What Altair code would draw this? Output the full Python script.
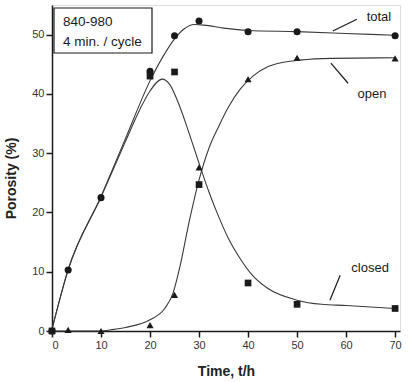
import altair as alt
import pandas as pd

# ---- measured points ----
time_total = [0, 3.3, 10, 20, 25, 30, 40, 50, 70]
total_pts = [0, 10.3, 22.5, 43.8, 49.8, 52.3, 50.5, 50.5, 49.8]

time_closed = [0, 20, 25, 30, 40, 50, 70]
closed_pts = [0, 43.0, 43.7, 24.7, 8.1, 4.5, 3.8]

time_open = [0, 3.3, 10, 20, 25, 30, 40, 50, 70]
open_pts = [0, 0.2, 0, 1.0, 6.1, 27.6, 42.5, 46.1, 46.0]

# ---- fitted curves ----
total_fit_t = [0, 3.3, 10, 15, 20, 23, 25, 27, 29, 31, 35, 40, 50, 60, 70]
total_fit = [0.3, 10.4, 22.7, 32.5, 42.2, 46.8, 49.3, 51.0, 51.7, 51.6, 51.1, 50.7, 50.5, 50.2, 49.9]

closed_fit_t = [0, 3.3, 10, 15, 18, 20, 22.5, 24, 26, 28, 30, 32, 34, 36, 38.4, 41, 44, 50, 55, 60, 70]
closed_fit = [0.3, 10.3, 22.6, 32, 37.5, 40.5, 42.5, 41.6, 38, 33.3, 28.3, 23.5, 19.3, 15.6, 12.2, 9.3, 7.2, 5.2, 4.5, 4.3, 3.8]

open_fit_t = [0, 10, 12, 15, 20, 23, 24.7, 26, 28, 30, 32, 34, 36, 38.4, 41, 43.8, 47, 50.6, 57, 70]
open_fit = [0, 0, 0.2, 0.6, 1.9, 3.8, 6.4, 10.5, 18.5, 25.5, 30.8, 34.5, 37.8, 40.8, 43, 44.5, 45.3, 45.7, 46, 46.1]

# ---- annotations ----
ann_labels = ["total", "open", "closed"]
ann_x = [66.7, 65.3, 64.9]
ann_y = [53.0, 40.0, 10.6]
lead_x1 = [57.3, 56.9, 56.7]
lead_y1 = [50.6, 45.2, 5.2]
lead_x2 = [62.2, 60.4, 58.8]
lead_y2 = [52.6, 41.8, 9.4]

box_lines = ["840-980", "4 min. / cycle"]

FONT = "Liberation Sans"
INK = "#1a1a1a"

xscale = alt.Scale(domain=[0, 71], nice=False, zero=False)
yscale = alt.Scale(domain=[0, 55], nice=False, zero=False)

cond_tick = {"condition": {"test": "datum.value % 10 == 0", "value": 6}, "value": 3}

xaxis = alt.Axis(
    values=list(range(0, 71, 5)),
    labelExpr="datum.value % 10 == 0 ? datum.label : ''",
    tickSize=cond_tick, tickWidth=1.5, tickColor=INK,
    domainColor=INK, domainWidth=1.5, grid=False,
    labelFont=FONT, labelFontSize=11, labelColor="#333", labelPadding=2,
    title="Time, t/h", titleFont=FONT, titleFontSize=14, titleFontWeight="bold",
    titleColor="#222", titleY=40, titleBaseline="middle",
)
yaxis = alt.Axis(
    values=list(range(0, 55, 5)),
    labelExpr="datum.value % 10 == 0 ? datum.label : ''",
    tickSize=cond_tick, tickWidth=1.5, tickColor=INK,
    domainColor=INK, domainWidth=1.5, grid=False,
    labelFont=FONT, labelFontSize=11, labelColor="#333", labelPadding=2,
    title="Porosity (%)", titleFont=FONT, titleFontSize=14, titleFontWeight="bold",
    titleColor="#222", titleX=-41, titleY=173, titleAngle=-90, titleBaseline="middle",
)

fits = pd.concat([
    pd.DataFrame({"t": total_fit_t, "v": total_fit, "s": "total"}),
    pd.DataFrame({"t": closed_fit_t, "v": closed_fit, "s": "closed"}),
    pd.DataFrame({"t": open_fit_t, "v": open_fit, "s": "open"}),
])

lines = alt.Chart(fits).mark_line(
    interpolate="monotone", color="#3a3a3a", strokeWidth=1.1
).encode(
    x=alt.X("t:Q", scale=xscale, axis=xaxis),
    y=alt.Y("v:Q", scale=yscale, axis=yaxis),
    detail="s:N",
)

df_total = pd.DataFrame({"t": time_total, "v": total_pts})
df_closed = pd.DataFrame({"t": time_closed, "v": closed_pts})
df_open = pd.DataFrame({"t": time_open, "v": open_pts})

enc = dict(x=alt.X("t:Q", scale=xscale), y=alt.Y("v:Q", scale=yscale))
circles = alt.Chart(df_total).mark_point(shape="circle", filled=True, size=50, color=INK, opacity=1).encode(**enc)
squares = alt.Chart(df_closed).mark_point(shape="square", filled=True, size=45, color=INK, opacity=1).encode(**enc)
triangles = alt.Chart(df_open).mark_point(shape="triangle-up", filled=True, size=50, color=INK, opacity=1).encode(**enc)

ann = pd.DataFrame({"label": ann_labels, "x": ann_x, "y": ann_y,
                    "x1": lead_x1, "y1": lead_y1, "x2": lead_x2, "y2": lead_y2})
ann_text = alt.Chart(ann).mark_text(font=FONT, fontSize=13, color=INK, align="center", baseline="middle").encode(
    x=alt.X("x:Q", scale=xscale), y=alt.Y("y:Q", scale=yscale), text="label:N")
leaders = alt.Chart(ann).mark_rule(color=INK, strokeWidth=1.2).encode(
    x=alt.X("x1:Q", scale=xscale), y=alt.Y("y1:Q", scale=yscale),
    x2="x2:Q", y2="y2:Q")

one = pd.DataFrame({"k": [0]})
box = alt.Chart(one).mark_rect(fill="white", stroke=INK, strokeWidth=1.2).encode(
    x=alt.value(2), x2=alt.value(100), y=alt.value(3), y2=alt.value(48))
box_df = pd.DataFrame({"txt": box_lines, "py": [17, 37]})
box_text = alt.Chart(box_df).mark_text(font=FONT, fontSize=13.5, color=INK, align="left", baseline="middle").encode(
    x=alt.value(11), y=alt.Y("py:Q", scale=None), text="txt:N")

chart = alt.layer(lines, circles, squares, triangles, leaders, ann_text, box, box_text).properties(
    width=348, height=326,
    autosize=alt.AutoSizeParams(type="none"),
    padding={"left": 52, "top": 5, "right": 10, "bottom": 51},
).configure_view(stroke=INK, strokeWidth=1.5).configure(background="white")

chart.save("out.html", embed_options={"renderer": "svg", "actions": False})
